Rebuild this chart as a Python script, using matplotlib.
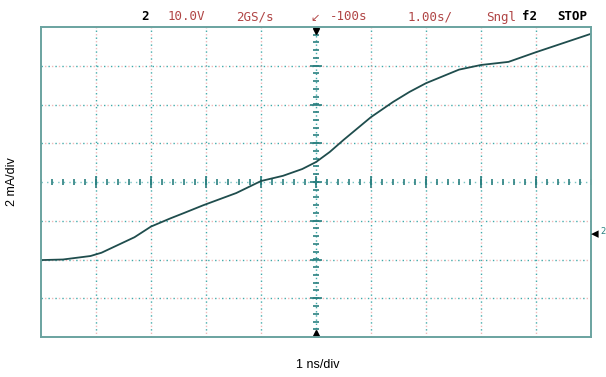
import numpy as np
import matplotlib.pyplot as plt

# trace (time in ns, current in mA)
tiempo_ns = [-5.0, -4.6, -4.1, -3.9, -3.3, -3.0, -2.65, -2.4, -2.05, -1.45, -1.0,
             -0.6, -0.25, 0.0, 0.25, 0.5, 1.0, 1.4, 1.7, 2.0, 2.6, 3.0, 3.5, 4.0, 5.0]
corriente_ma = [-4.03, -4.0, -3.82, -3.65, -2.85, -2.3, -1.88, -1.6, -1.2, -0.57, 0.05,
                0.32, 0.67, 1.03, 1.55, 2.17, 3.35, 4.13, 4.65, 5.1, 5.8, 6.04, 6.2, 6.7, 7.65]

cabecera = ['2', '10.0V', '2GS/s', '-100s', '1.00s/', 'Sngl', 'f2', 'STOP']
cabecera_x = [141, 168, 236, 330, 408, 486, 522, 557]

teal = '#3fa9a9'
rojo = '#e58a8a'

fig = plt.figure(figsize=(6.06, 3.77), dpi=100)
ax = fig.add_axes([41 / 606, 40 / 377, 550 / 606, 310 / 377])
ax.set_xlim(-5, 5)
ax.set_ylim(-8, 8)
ax.set_xticks([])
ax.set_yticks([])
for s in ax.spines.values():
    s.set_color('#6aa3a0')
    s.set_linewidth(1.4)

# dotted graticule, teal and red dots interleaved like the scope screen
for gx in range(-4, 5):
    if gx == 0:
        continue
    ax.plot([gx, gx], [-8, 8], color=teal, lw=1, ls=(0, (1, 4)))
    ax.plot([gx, gx], [-8, 8], color=rojo, lw=1, ls=(2.5, (1, 4)), alpha=0.6)
for gy in range(-6, 7, 2):
    if gy == 0:
        continue
    ax.plot([-5, 5], [gy, gy], color=teal, lw=1, ls=(0, (1, 4)))
    ax.plot([-5, 5], [gy, gy], color=rojo, lw=1, ls=(2.5, (1, 4)), alpha=0.6)

# centre cross with minor ticks
ax.plot([0, 0], [-8, 8], color=teal, lw=1, ls=(0, (1, 2)))
ax.plot([-5, 5], [0, 0], color=teal, lw=1, ls=(0, (1, 3)), alpha=0.7)
menor_x = np.arange(-5, 5.01, 0.2)
menor_y = np.arange(-8, 8.01, 0.4)
ax.plot(menor_x, np.zeros_like(menor_x), ls='none', marker='|', ms=4, color='#2a8080', mew=1.2)
ax.plot(np.arange(-4, 5), np.zeros(9), ls='none', marker='|', ms=8, color='#2a8080', mew=1.2)
ax.plot(np.zeros_like(menor_y), menor_y, ls='none', marker='_', ms=5, color='#2a8080', mew=1.2)
ax.plot(np.zeros(7), np.arange(-6, 7, 2), ls='none', marker='_', ms=9, color='#2a8080', mew=1.2)

ax.plot(tiempo_ns, corriente_ma, color='#1f4d4d', lw=1.3)

# trigger / ground markers
ax.plot([0], [7.8], marker='v', ms=5, color='black', clip_on=False)
ax.plot([0], [-7.8], marker='^', ms=5, color='black', clip_on=False)
fig.text(591 / 606, 1 - 234 / 377, '◂', fontsize=11, color='black', va='center')
fig.text(600 / 606, 1 - 232 / 377, '2', fontsize=6, color='#2a8080', va='center')
fig.text(310 / 606, 1 - 18 / 377, '↙', fontsize=8, color='#b04040', va='center')

for txt, px in zip(cabecera, cabecera_x):
    negrita = txt in ('2', 'f2', 'STOP')
    fig.text(px / 606, 1 - 17 / 377, txt, fontsize=9, family='DejaVu Sans Mono',
             color='black' if negrita else '#b04545',
             fontweight='bold' if negrita else 'normal', va='center')

fig.text(12 / 606, 1 - 182 / 377, '2 mA/div', rotation=90, fontsize=9,
         family='Liberation Sans', ha='center', va='center')
fig.text(318 / 606, 1 - 365 / 377, '1 ns/div', fontsize=9,
         family='Liberation Sans', ha='center', va='center')

fig.savefig('out.png', dpi=100)
